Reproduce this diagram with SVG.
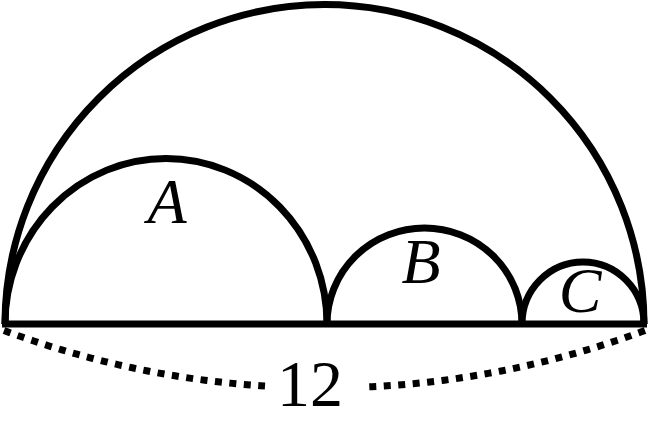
<svg xmlns="http://www.w3.org/2000/svg" width="650" height="430" viewBox="0 0 650 430">
<style>
.arc{fill:none;stroke:#000;stroke-width:7}
.dots{fill:none;stroke:#000;stroke-width:7;stroke-dasharray:7 7.5}
.lbl{font-family:'Liberation Serif','Times New Roman',serif;font-style:italic;font-size:64px;fill:#000;text-anchor:middle}
.num{font-family:'Liberation Serif','Times New Roman',serif;font-size:66px;fill:#000;text-anchor:middle}
</style>
<rect width="650" height="430" fill="#fff"/>
<g id="big"><path class="arc" d="M5,324 A319.5,319.5 0 0 1 644,324"/></g>
<g id="A"><path class="arc" d="M5,324 A161,165.5 0 0 1 327,324"/><text class="lbl" x="167" y="223">A</text></g>
<g id="B"><path class="arc" d="M327,324 A97.5,96 0 0 1 522,324"/><text class="lbl" x="421" y="283">B</text></g>
<g id="C"><path class="arc" d="M522,324 A61,62 0 0 1 644,324"/><text class="lbl" x="580" y="312">C</text></g>
<g id="base"><path class="arc" d="M2,324 H647"/></g>
<g id="measure">
<path class="dots" d="M4,330.5 A911.8,911.8 0 0 0 265,386"/>
<path class="dots" d="M645,330.5 A911.8,911.8 0 0 1 364,387"/>
<text class="num" x="310" y="406">12</text>
</g>
</svg>
